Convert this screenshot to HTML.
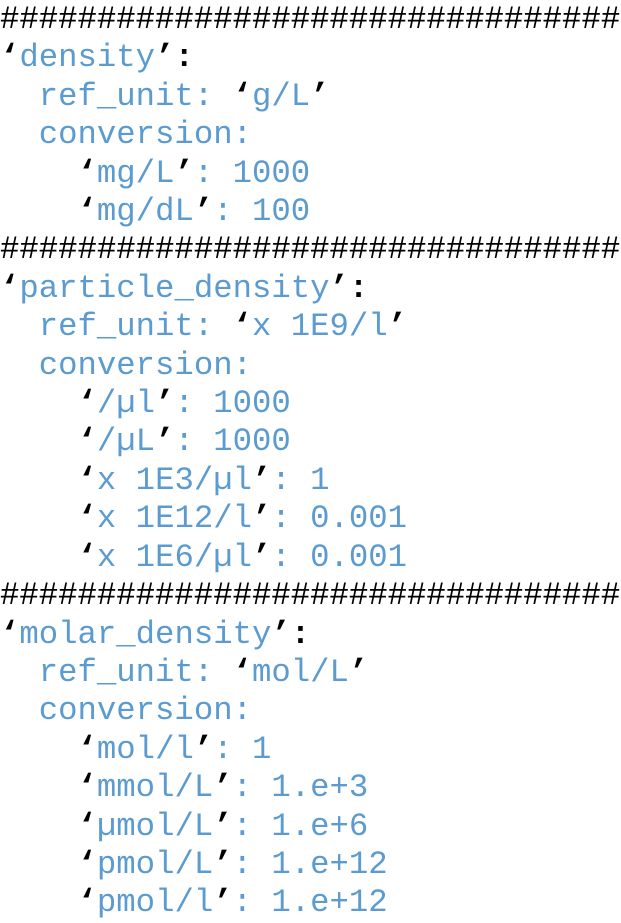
<!DOCTYPE html>
<html><head><meta charset="utf-8"><style>
html,body{margin:0;padding:0;background:#fff;width:621px;height:917px;overflow:hidden}
pre{margin:0;position:absolute;left:0;top:1px;font-family:"Liberation Mono","DejaVu Sans Mono",monospace;font-size:32.3px;line-height:38.4px;color:#5b9bd0}
.k{color:#000;font-weight:bold}
</style></head><body>
<pre><span class="k" style="font-weight:normal">################################</span>
<span class="k">‘</span>density<span class="k">’:</span>
  ref_unit: <span class="k">‘</span>g/L<span class="k">’</span>
  conversion:
    <span class="k">‘</span>mg/L<span class="k">’</span>: 1000
    <span class="k">‘</span>mg/dL<span class="k">’</span>: 100
<span class="k" style="font-weight:normal">################################</span>
<span class="k">‘</span>particle_density<span class="k">’:</span>
  ref_unit: <span class="k">‘</span>x 1E9/l<span class="k">’</span>
  conversion:
    <span class="k">‘</span>/µl<span class="k">’</span>: 1000
    <span class="k">‘</span>/µL<span class="k">’</span>: 1000
    <span class="k">‘</span>x 1E3/µl<span class="k">’</span>: 1
    <span class="k">‘</span>x 1E12/l<span class="k">’</span>: 0.001
    <span class="k">‘</span>x 1E6/µl<span class="k">’</span>: 0.001
<span class="k" style="font-weight:normal">################################</span>
<span class="k">‘</span>molar_density<span class="k">’:</span>
  ref_unit: <span class="k">‘</span>mol/L<span class="k">’</span>
  conversion:
    <span class="k">‘</span>mol/l<span class="k">’</span>: 1
    <span class="k">‘</span>mmol/L<span class="k">’</span>: 1.e+3
    <span class="k">‘</span>µmol/L<span class="k">’</span>: 1.e+6
    <span class="k">‘</span>pmol/L<span class="k">’</span>: 1.e+12
    <span class="k">‘</span>pmol/l<span class="k">’</span>: 1.e+12</pre>
</body></html>
